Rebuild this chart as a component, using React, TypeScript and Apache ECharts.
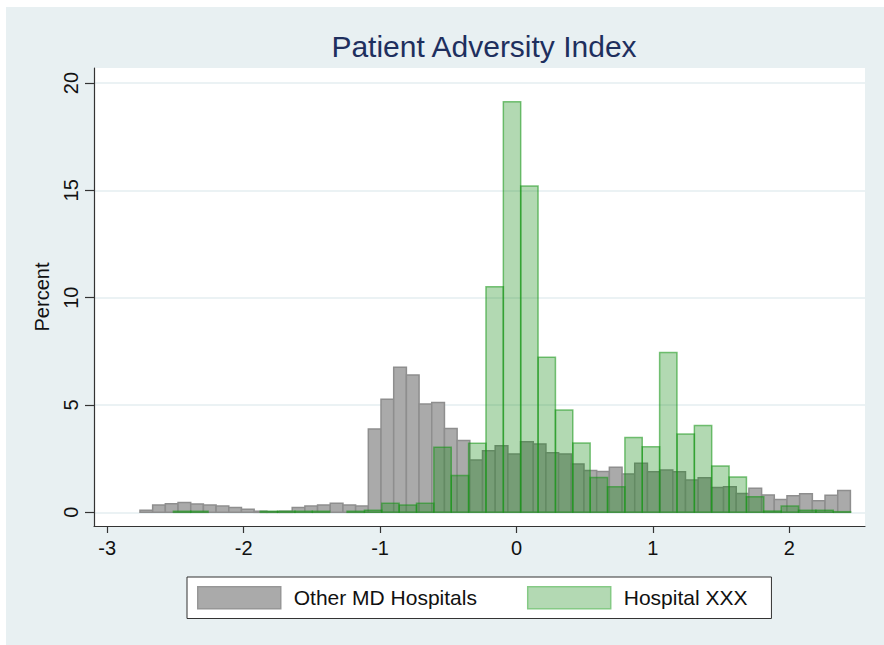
import React, { useEffect, useRef } from "react";
import * as echarts from "echarts";

// Histogram of "Other MD Hospitals" (narrow bins)
const grayStart = -2.76;
const grayWidth = 0.093;
const grayPercent = [
  0.09, 0.34, 0.40, 0.46, 0.39, 0.34, 0.29, 0.22, 0.14, 0.05,
  0.03, 0.05, 0.22, 0.29, 0.34, 0.42, 0.34, 0.29, 3.88, 5.27,
  6.76, 6.40, 5.05, 5.11, 3.91, 3.34, 2.44, 2.87, 3.10, 2.72,
  3.29, 3.18, 2.78, 2.72, 2.25, 1.95, 1.90, 2.10, 1.78, 2.28,
  1.89, 1.97, 1.89, 1.50, 1.61, 1.15, 1.19, 0.88, 1.12, 0.81,
  0.60, 0.77, 0.87, 0.54, 0.79, 1.02,
];

// Histogram of "Hospital XXX" (wider bins)
const greenStart = -2.515;
const greenWidth = 0.1273;
const greenPercent = [
  0.05, 0.05, 0, 0, 0, 0.05, 0.05, 0.05, 0.05, 0,
  0.05, 0.1, 0.42, 0.34, 0.42, 3.03, 1.71, 3.22, 10.51, 19.13,
  15.2, 7.22, 4.77, 3.23, 1.62, 1.19, 3.48, 3.06, 7.45, 3.65,
  4.04, 2.16, 1.65, 0.73, 0.06, 0.29, 0.1, 0.1, 0.03,
];

const xTicks = [-3, -2, -1, 0, 1, 2];
const yTicks = [0, 5, 10, 15, 20];
const seriesNames = ["Other MD Hospitals", "Hospital XXX"];
const titleText = "Patient Adversity Index";
const yName = "Percent";

const FONT = "'Liberation Sans', Arial, Helvetica, sans-serif";

function toBins(start: number, width: number, vals: number[]) {
  return vals.map((v, i) => [start + i * width, start + (i + 1) * width, v]);
}

function makeRender(fill: string, stroke: string, lw: number) {
  return (params: any, api: any) => {
    const x0 = api.value(0);
    const x1 = api.value(1);
    const h = api.value(2);
    if (!(h > 0)) return null;
    const p0 = api.coord([x0, h]);
    const p1 = api.coord([x1, 0]);
    return {
      type: "rect",
      shape: { x: p0[0], y: p0[1], width: p1[0] - p0[0], height: p1[1] - p0[1] },
      style: { fill, stroke, lineWidth: lw },
    };
  };
}

export default function App() {
  const ref = useRef<HTMLDivElement>(null);
  useEffect(() => {
    if (!ref.current) return;
    const chart = echarts.init(ref.current, undefined, { renderer: "svg" });
    const greenFill = "rgba(0,128,0,0.30)";
    const greenStroke = "rgba(20,150,20,0.55)";
    const grayFill = "#aaaaaa";
    const grayStroke = "#8e8e8e";
    chart.setOption({
      animation: false,
      backgroundColor: "#ffffff",
      textStyle: { fontFamily: FONT },
      graphic: [
        {
          type: "rect",
          z: -10,
          silent: true,
          shape: { x: 6, y: 7, width: 878, height: 638 },
          style: { fill: "#e8f0f2" },
        },
      ],
      title: {
        text: titleText,
        left: 479,
        top: 26,
        textAlign: "center",
        textStyle: { fontSize: 30, fontWeight: "normal", color: "#1e2f5e", fontFamily: FONT },
      },
      grid: {
        left: 94,
        top: 68,
        width: 771,
        height: 458,
        show: true,
        backgroundColor: "#ffffff",
        borderWidth: 0,
      },
      legend: {
        left: 187,
        top: 577,
        orient: "horizontal",
        icon: "rect",
        itemWidth: 83,
        itemHeight: 22,
        itemGap: 50,
        padding: [9, 24, 9, 10],
        backgroundColor: "#ffffff",
        borderColor: "#333333",
        borderWidth: 1,
        borderRadius: 0,
        textStyle: { fontSize: 21, color: "#111", fontFamily: FONT, padding: [0, 0, 0, 8] },
        data: [
          { name: seriesNames[0], itemStyle: { color: "#aaaaaa", borderColor: "#979797", borderWidth: 1.5 } },
          { name: seriesNames[1], itemStyle: { color: "#b3d9b3", borderColor: "#85ca85", borderWidth: 1.5 } },
        ],
      },
      xAxis: {
        type: "value",
        min: -3.097,
        max: 2.555,
        axisLine: { show: true, onZero: false, lineStyle: { color: "#333", width: 1.2 } },
        axisTick: { show: true, length: 7, customValues: xTicks, lineStyle: { color: "#333", width: 1.2 } },
        axisLabel: {
          customValues: xTicks,
          fontSize: 20,
          color: "#111",
          margin: 12,
          fontFamily: FONT,
        },
        splitLine: { show: false },
      },
      yAxis: {
        type: "value",
        min: -0.638,
        max: 20.7,
        name: yName,
        nameLocation: "middle",
        nameRotate: 90,
        nameGap: 42,
        nameTextStyle: { fontSize: 20, color: "#111", fontFamily: FONT },
        axisLine: { show: true, onZero: false, lineStyle: { color: "#333", width: 1.2 } },
        axisTick: { show: true, length: 9, customValues: yTicks, lineStyle: { color: "#333", width: 1.2 } },
        axisLabel: {
          customValues: yTicks,
          rotate: 90,
          fontSize: 20,
          color: "#111",
          margin: 13,
          fontFamily: FONT,
        },
        splitLine: { show: true, lineStyle: { color: "#e5eef0", width: 1.5 } },
      },
      series: [
        {
          name: seriesNames[0],
          type: "custom",
          renderItem: makeRender(grayFill, grayStroke, 1.5),
          encode: { x: [0, 1], y: 2 },
          data: toBins(grayStart, grayWidth, grayPercent),
          itemStyle: { color: "#aaaaaa" },
          z: 2,
        },
        {
          name: seriesNames[1],
          type: "custom",
          renderItem: makeRender(greenFill, greenStroke, 1.5),
          encode: { x: [0, 1], y: 2 },
          data: toBins(greenStart, greenWidth, greenPercent),
          itemStyle: { color: "#b3d9b3" },
          z: 3,
        },
      ],
    });
    return () => chart.dispose();
  }, []);
  return (
    <div
      ref={ref}
      style={{ position: "fixed", left: 0, top: 0, width: 884, height: 645 }}
    />
  );
}
